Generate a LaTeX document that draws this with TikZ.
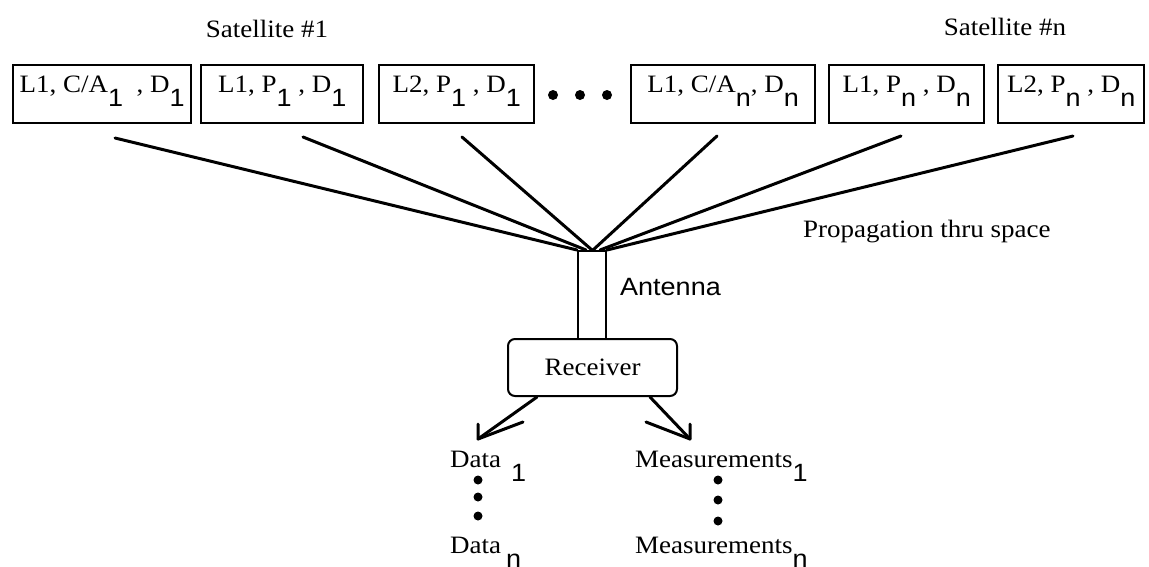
\documentclass[tikz,border=0pt]{standalone}
\usepackage{fontspec}
\setmainfont{Liberation Serif}[FakeStretch=1.08]
\newfontfamily\subsf{Liberation Sans}[FakeStretch=1.08]
% subscripts are set full size in sans, dropped below the baseline
\newcommand\lowsub[1]{\raisebox{-14pt}{\subsf #1}}
\tikzset{
  txt/.style={font=\fontsize{25}{30}\selectfont, inner sep=0pt},
  sigbox/.style={draw, line width=2.4pt, inner sep=0pt, anchor=north west,
                 font=\fontsize{25}{30}\selectfont, minimum height=58pt,
                 text height=19pt, text depth=23pt},
  ray/.style={line width=3pt, line cap=round},
  outarrow/.style={line width=3pt, line cap=round, line join=miter},
  dot/.style={fill=black}
}
\begin{document}
\begin{tikzpicture}[x=1pt, y=-1pt]
\useasboundingbox (0,0) rectangle (1149,566);

% satellite headings
\node[txt, anchor=base] (sat1) at (267,37) {Satellite \#1};
\node[txt, anchor=base] (satn) at (1005,35) {Satellite \#n};

% transmitted signal components
\node[sigbox, minimum width=178pt] (b1) at (12,64)  {L1, C/A\lowsub{1}\ \ , D\lowsub{1}};
\node[sigbox, minimum width=162pt] (b2) at (200,64) {L1, P\lowsub{1}\ , D\lowsub{1}};
\node[sigbox, minimum width=155pt] (b3) at (378,64) {L2, P\lowsub{1}\ , D\lowsub{1}};
\node[sigbox, minimum width=184pt] (b4) at (630,64) {L1, C/A\lowsub{n}, D\lowsub{n}};
\node[sigbox, minimum width=155pt] (b5) at (828,64) {L1, P\lowsub{n}\ , D\lowsub{n}};
\node[sigbox, minimum width=146pt] (b6) at (997,64) {L2, P\lowsub{n}\ , D\lowsub{n}};

\fill[dot] (553,95) circle (5pt) (580,95) circle (5pt) (607,95) circle (5pt);

% antenna and receiver
\node[draw, line width=2pt, minimum width=28pt, minimum height=88pt, inner sep=0pt,
      anchor=north west] (ant) at (577,250) {};
\node[draw, line width=2pt, rounded corners=7pt, minimum width=169pt, minimum height=57pt,
      inner sep=0pt, anchor=north west, txt] (rcv) at (507,338) {Receiver\hspace{18pt}};
\node[txt, anchor=base west, font=\fontsize{25}{30}\subsf] (antlbl) at (620,295) {Antenna};

% propagation paths
\coordinate (s1) at (115,138);
\coordinate (s2) at (303,137);
\coordinate (s3) at (462,137);
\coordinate (s4) at (717,136);
\coordinate (s5) at (901,136);
\coordinate (s6) at (1073,136);
\draw[ray] (s1) -- (ant.north west);
\draw[ray] (s2) -- ([xshift=-6pt]ant.north);
\draw[ray] (s3) -- (ant.north);
\draw[ray] (s4) -- ([xshift=1pt]ant.north);
\draw[ray] (s5) -- ([xshift=8pt]ant.north);
\draw[ray] (s6) -- (ant.north east);
\node[txt, anchor=base west] (prop) at (803,237) {Propagation thru space};

% receiver outputs
\coordinate (tl) at (478,439);
\coordinate (tr) at (690,439);
\draw[outarrow] ([xshift=30pt]rcv.south west) -- (tl);
\draw[outarrow] (tl) -- ++(0,-15) (tl) -- ++(45,-17);
\draw[outarrow] ([xshift=-28pt]rcv.south east) -- (tr);
\draw[outarrow] (tr) -- ++(0,-15) (tr) -- ++(-44,-17);

\node[txt, anchor=base west] (d1) at (450,467) {Data\hspace{10pt}\lowsub{1}};
\node[txt, anchor=base west] (dn) at (450,553) {Data\hspace{5pt}\lowsub{n}};
\node[txt, anchor=base west] (m1) at (635,467) {Measurements\lowsub{1}};
\node[txt, anchor=base west] (mn) at (635,553) {Measurements\lowsub{n}};

\fill[dot] (478,480) circle (4.5pt) (478,497) circle (4.5pt) (478,516) circle (4.5pt);
\fill[dot] (718,480) circle (4.5pt) (718,500) circle (4.5pt) (718,521) circle (4.5pt);
\end{tikzpicture}
\end{document}
